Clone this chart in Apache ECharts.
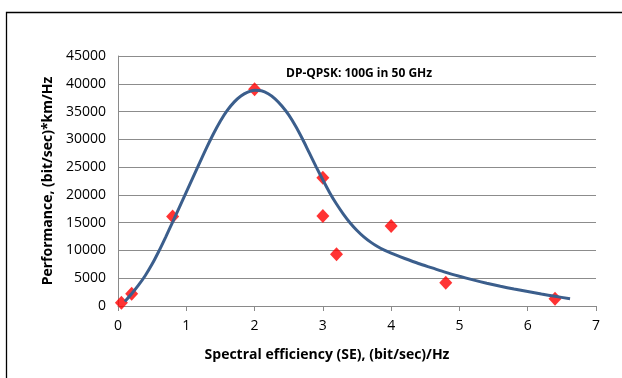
<!DOCTYPE html>
<html><head><meta charset="utf-8">
<script src="https://cdn.jsdelivr.net/npm/echarts@6/dist/echarts.min.js"></script>
<style>html,body{margin:0;padding:0;background:#fff}#c{width:622px;height:378px}</style>
</head><body><div id="c"></div>
<script>
// Measured points (spectral efficiency, performance)
const pointSE = [0.05, 0.2, 0.8, 2.0, 3.0, 3.0, 3.2, 4.0, 4.8, 6.4];
const pointPerf = [600, 2200, 16100, 39000, 23100, 16200, 9300, 14400, 4200, 1300];
// Trend curve
const curveSE = [0.1, 0.2, 0.3, 0.4, 0.5, 0.6, 0.7, 0.8, 0.9, 1.0, 1.1, 1.2, 1.3, 1.4, 1.5, 1.6, 1.7, 1.8, 1.9, 2.0,
  2.1, 2.2, 2.3, 2.4, 2.5, 2.6, 2.7, 2.8, 2.9, 3.0, 3.1, 3.2, 3.3, 3.4, 3.5, 3.6, 3.7, 3.8, 3.9, 4.0,
  4.2, 4.4, 4.6, 4.8, 5.0, 5.2, 5.4, 5.6, 5.8, 6.0, 6.2, 6.4, 6.62];
const curvePerf = [800, 2200, 3750, 5500, 7550, 9900, 12450, 15100, 17800, 20500, 23200, 25900, 28550, 31050, 33300, 35200, 36700, 37800, 38500, 38850,
  38750, 38200, 37300, 36000, 34400, 32400, 30100, 27600, 25100, 22700, 20400, 18350, 16550, 14950, 13600, 12450, 11500, 10700, 10050, 9500,
  8550, 7650, 6850, 6050, 5350, 4700, 4100, 3550, 3050, 2600, 2150, 1750, 1300];
const xTicks = [0, 1, 2, 3, 4, 5, 6, 7];
const yTicks = [0, 5000, 10000, 15000, 20000, 25000, 30000, 35000, 40000, 45000];
const annotation = 'DP-QPSK: 100G in 50 GHz';
const xTitle = 'Spectral efficiency (SE), (bit/sec)/Hz';
const yTitle = 'Performance, (bit/sec)*km/Hz';

const chart = echarts.init(document.getElementById('c'), null, {renderer: 'canvas'});
const font = 'Open Sans';
chart.setOption({
  animation: false,
  backgroundColor: '#fff',
  grid: {left: 118, right: 26, top: 56, bottom: 72},
  title: {text: annotation, left: 281, top: 63,
    textStyle: {fontFamily: font, fontSize: 12, fontWeight: 'bold', color: '#000'}},
  graphic: [
    {type: 'rect', shape: {x: 6.5, y: 12.5, width: 640, height: 420},
      style: {fill: 'none', stroke: '#000', lineWidth: 1.3}, silent: true},
    {type: 'text', x: 327, y: 355, style: {text: xTitle,
      font: 'bold 14px "Open Sans"', fill: '#000', align: 'center', verticalAlign: 'middle'}, silent: true}
  ],
  xAxis: {type: 'value', min: xTicks[0], max: xTicks[xTicks.length - 1], interval: 1,
    axisLine: {lineStyle: {color: '#8a8a8a', width: 1}},
    axisTick: {show: true, inside: false, length: 5, lineStyle: {color: '#8a8a8a'}},
    axisLabel: {fontFamily: font, fontSize: 14, color: '#000', margin: 13},
    splitLine: {show: false}},
  yAxis: {type: 'value', min: yTicks[0], max: yTicks[yTicks.length - 1], interval: 5000,
    name: yTitle, nameLocation: 'middle', nameGap: 58, nameRotate: 90,
    nameTextStyle: {fontFamily: font, fontSize: 14, fontWeight: 'bold', color: '#000'},
    axisLine: {show: true, lineStyle: {color: '#8a8a8a', width: 1}},
    axisTick: {show: false},
    axisLabel: {fontFamily: font, fontSize: 14, color: '#000', margin: 12, formatter: v => String(v)},
    splitLine: {show: true, lineStyle: {color: '#8c8c8c', width: 1}}},
  series: [
    {type: 'line', data: curveSE.map((x, i) => [x, curvePerf[i]]), smooth: 0.3,
      showSymbol: false, symbol: 'none', lineStyle: {color: '#3b5e8c', width: 3}, z: 3},
    {type: 'scatter', data: pointSE.map((x, i) => [x, pointPerf[i]]), symbol: 'diamond',
      symbolSize: [13, 14], itemStyle: {color: '#ff0000'}, z: 2}
  ]
});
</script></body></html>
